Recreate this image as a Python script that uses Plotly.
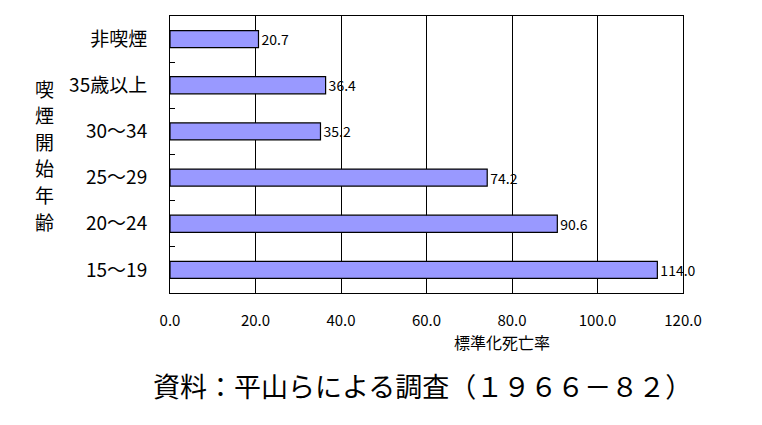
import plotly.graph_objects as go

categories = ["非喫煙", "35歳以上", "30～34", "25～29", "20～24", "15～19"]
values = [20.7, 36.4, 35.2, 74.2, 90.6, 114.0]
x_ticks = [0, 20, 40, 60, 80, 100, 120]
x_title = "標準化死亡率"
y_title_chars = ["喫", "煙", "開", "始", "年", "齢"]
source = "資料：平山らによる調査（１９６６－８２）"

FONT = "Noto Sans CJK JP"
L, R, T, B = 162, 675, 8, 285
PW, PH = R - L, B - T

fig = go.Figure(go.Bar(
    x=values, y=categories, orientation="h",
    marker=dict(color="#9999FF", line=dict(color="black", width=1.2)),
    text=values, texttemplate="%{x:.1f}", textposition="outside",
    constraintext="none",
    textfont=dict(family=FONT, size=14, color="black"),
    cliponaxis=False, width=0.37,
))

fig.update_layout(
    width=762, height=425,
    margin=dict(l=L, r=762 - R, t=T, b=425 - B, autoexpand=False),
    plot_bgcolor="white", paper_bgcolor="white",
    showlegend=False,
    font=dict(family=FONT, color="black"),
)
fig.update_xaxes(
    range=[0, 120], tickvals=x_ticks, tickformat=".1f",
    showgrid=True, gridcolor="black", gridwidth=1,
    showline=True, linecolor="black", linewidth=1, mirror=True,
    ticks="", ticklabelstandoff=14, automargin=False,
    tickfont=dict(family=FONT, size=15, color="black"),
    zeroline=False,
)
fig.update_yaxes(
    categoryorder="array", categoryarray=categories, autorange="reversed",
    showline=True, linecolor="black", linewidth=1, mirror=True,
    ticks="inside", tickson="boundaries", ticklen=5, tickcolor="black",
    ticklabelstandoff=18, automargin=False,
    tickfont=dict(family=FONT, size=19, color="black"),
    showgrid=False,
)

fig.add_annotation(
    text=x_title, xref="paper", yref="paper", x=(494 - L) / PW, y=-(334 - B) / PH,
    showarrow=False, font=dict(family=FONT, size=16, color="black"),
    xanchor="center", yanchor="middle",
)
for i, ch in enumerate(y_title_chars):
    fig.add_annotation(
        text=ch, xref="paper", yref="paper",
        x=(36 - L) / PW, y=(B - (80 + 26.6 * i)) / PH,
        showarrow=False, font=dict(family=FONT, size=19, color="black"),
        xanchor="center", yanchor="middle",
    )
fig.add_annotation(
    text=source, xref="paper", yref="paper",
    x=(414 - L) / PW, y=-(378 - B) / PH,
    showarrow=False, font=dict(family=FONT, size=27, color="black"),
    xanchor="center", yanchor="middle",
)

fig.write_html("out.html")
